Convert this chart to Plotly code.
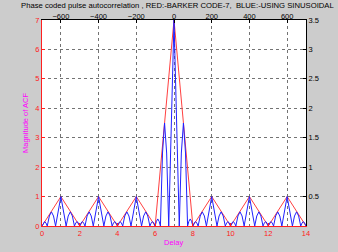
import plotly.graph_objects as go

# ---- data ----
# Barker-7 autocorrelation magnitude (left axis, bottom x = delay)
red_delay = [0, 1, 2, 3, 4, 5, 6, 7, 8, 9, 10, 11, 12, 13, 14]
red_mag = [0, 1, 0, 1, 0, 1, 0, 7, 0, 1, 0, 1, 0, 1, 0]

# Sinusoidal-coded pulse ACF magnitude (right axis, top x = lag)
blue_lag = [
    -700, -693, -686, -679, -672, -661, -650, -639, -628, -600, -572, -561, -550, -539, -528, -521, -514, -507,
    -500, -493, -486, -479, -472, -461, -450, -439, -428, -400, -372, -361, -350, -339, -328, -321, -314, -307,
    -300, -293, -286, -279, -272, -261, -250, -239, -228, -200, -172, -161, -150, -139, -128, -121, -114, -107,
    -100, -93, -86, -79, -72, -61, -50, -39, -28, 0, 28, 39, 50, 61, 72, 79, 86, 93,
    100, 107, 114, 121, 128, 139, 150, 161, 172, 200, 228, 239, 250, 261, 272, 279, 286, 293,
    300, 307, 314, 321, 328, 339, 350, 361, 372, 400, 428, 439, 450, 461, 472, 479, 486, 493,
    500, 507, 514, 521, 528, 539, 550, 561, 572, 600, 628, 639, 650, 661, 672, 679, 686, 693,
    700,
]
blue_mag = [
    0, .05, .075, .05, 0, .17, .24, .17, 0, .5, 0, .17, .24, .17, 0, .05, .075, .05,
    0, .05, .075, .05, 0, .17, .24, .17, 0, .5, 0, .17, .24, .17, 0, .05, .075, .05,
    0, .05, .075, .05, 0, .17, .24, .17, 0, .5, 0, .17, .24, .17, 0, .05, .075, .05,
    0, .08, .12, .08, 0, 1.24, 1.75, 1.24, 0, 3.5, 0, 1.24, 1.75, 1.24, 0, .08, .12, .08,
    0, .05, .075, .05, 0, .17, .24, .17, 0, .5, 0, .17, .24, .17, 0, .05, .075, .05,
    0, .05, .075, .05, 0, .17, .24, .17, 0, .5, 0, .17, .24, .17, 0, .05, .075, .05,
    0, .05, .075, .05, 0, .17, .24, .17, 0, .5, 0, .17, .24, .17, 0, .05, .075, .05,
    0,
]

bottom_ticks = [0, 2, 4, 6, 8, 10, 12, 14]
top_ticks = [-600, -400, -200, 0, 200, 400, 600]
left_ticks = [0, 1, 2, 3, 4, 5, 6, 7]
right_ticks = [0.5, 1, 1.5, 2, 2.5, 3, 3.5]

title_text = "Phase coded pulse autocorrelation , RED:-BARKER CODE-7,  BLUE:-USING SINUSOIDAL"

FONT = "Liberation Sans, Arial, sans-serif"
RED = "#ff2020"
GRID = "rgba(0,0,0,0.55)"

fig = go.Figure()
fig.add_trace(go.Scatter(x=red_delay, y=red_mag, mode="lines",
                         line=dict(color="#ff4040", width=1), xaxis="x", yaxis="y",
                         showlegend=False, hoverinfo="skip"))
fig.add_trace(go.Scatter(x=blue_lag, y=blue_mag, mode="lines",
                         line=dict(color="#2020ff", width=1), xaxis="x2", yaxis="y2",
                         showlegend=False, hoverinfo="skip"))

W, H = 338, 252
L, R, T, B = 42, 32, 18, 26

fig.update_layout(
    width=W, height=H,
    margin=dict(l=L, r=R, t=T, b=B, pad=0),
    paper_bgcolor="#cccccc", plot_bgcolor="white",
    font=dict(family=FONT, size=7.5, color="black"),
    xaxis=dict(range=[0, 14], tickvals=bottom_ticks, ticks="inside", ticklen=3,
               tickcolor=RED, tickfont=dict(color=RED, size=7.5), showline=True,
               linecolor=RED, linewidth=1, showgrid=False, zeroline=False, mirror=False),
    xaxis2=dict(range=[-700, 700], tickvals=top_ticks, side="top", overlaying="x",
                ticks="inside", ticklen=3, tickcolor="black", showline=True,
                linecolor="black", linewidth=1, showgrid=True, gridcolor=GRID,
                griddash="dot", gridwidth=1, zeroline=False, ticklabelstandoff=-3),
    yaxis=dict(range=[0, 7], tickvals=left_ticks, ticks="inside", ticklen=3,
               tickcolor=RED, tickfont=dict(color=RED, size=7.5), showline=True,
               linecolor=RED, linewidth=1, showgrid=False, zeroline=False),
    yaxis2=dict(range=[0, 3.5], tickvals=right_ticks, side="right", overlaying="y",
                ticks="inside", ticklen=3, tickcolor="black", showline=True,
                linecolor="black", linewidth=1, showgrid=True, gridcolor=GRID,
                griddash="dot", gridwidth=1, zeroline=False),
    annotations=[
        dict(text=title_text, xref="paper", yref="paper", x=(177 - L) / (W - L - R),
             y=1 + (T - 3.5) / (H - T - B), xanchor="center", yanchor="middle",
             showarrow=False, font=dict(size=7.7, color="black")),
        dict(text="Magnitude of ACF", xref="paper", yref="paper",
             x=(25 - L) / (W - L - R), y=0.5, textangle=-90, xanchor="center",
             yanchor="middle", showarrow=False, font=dict(size=7.5, color="#ff00ff")),
        dict(text="Delay", xref="paper", yref="paper", x=(173 - L) / (W - L - R),
             y=-(243 - (H - B)) / (H - T - B), xanchor="center", yanchor="middle",
             showarrow=False, font=dict(size=7.5, color="#ff00ff")),
    ],
)

fig.write_html("out.html")
